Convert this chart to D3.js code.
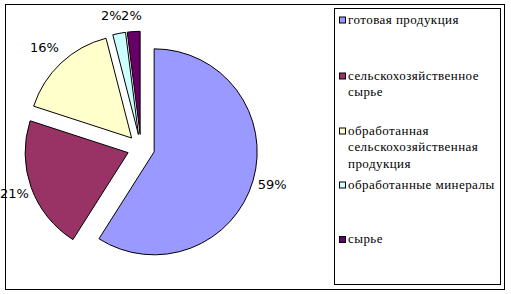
<!DOCTYPE html>
<html><head><meta charset="utf-8">
<script src="https://cdn.jsdelivr.net/npm/d3@7"></script>
<style>html,body{margin:0;padding:0;background:#fff;}svg{display:block;}
.leg{font-family:"Liberation Serif","DejaVu Serif",serif;font-size:13px;letter-spacing:0.45px;}
.lab{font-family:"DejaVu Sans",sans-serif;font-size:13px;}
</style>
</head><body>
<svg id="chart" width="511" height="294"></svg>
<script>
const categories = ["готовая продукция","сельскохозяйственное сырье","обработанная сельскохозяйственная продукция","обработанные минералы","сырье"];
const values = [59, 21, 16, 2, 2];
const valueLabels = ["59%","21%","16%","2%","2%"];
const colors = ["#9999FF","#993366","#FFFFCC","#CCFFFF","#660066"];
const legendLines = [["готовая продукция"],["сельскохозяйственное","сырье"],["обработанная","сельскохозяйственная","продукция"],["обработанные минералы"],["сырье"]];

const svg = d3.select("#chart");
svg.append("rect").attr("x",5.5).attr("y",4.5).attr("width",499).attr("height",285)
  .attr("fill","#fff").attr("stroke","#000").attr("stroke-width",1);

const cx = 141, cy = 148, r = 103, explode = 13.7, labelR = 123;
const labelNudge = [[0,-2],[2,-1],[-3,-1],[-4,1],[-1,3]];
const pie = d3.pie().sort(null).value(d => d)(values);
const arc = d3.arc().innerRadius(0).outerRadius(r);
const g = svg.append("g").attr("transform",`translate(${cx},${cy})`);
pie.forEach((p,i) => {
  const mid = (p.startAngle + p.endAngle)/2;
  const dx = Math.sin(mid)*explode, dy = -Math.cos(mid)*explode;
  g.append("path").attr("d", arc(p)).attr("transform",`translate(${dx},${dy})`)
    .attr("fill", colors[i]).attr("stroke","#000").attr("stroke-width",1).attr("stroke-linejoin","round");
  const lx = dx + Math.sin(mid)*labelR + labelNudge[i][0], ly = dy - Math.cos(mid)*labelR + labelNudge[i][1];
  g.append("text").attr("class","lab").attr("x", lx).attr("y", ly + 5).attr("text-anchor","middle")
    .attr("fill","#000").text(valueLabels[i]);
});

// legend
svg.append("rect").attr("x",334.5).attr("y",8.5).attr("width",166).attr("height",276)
  .attr("fill","#fff").attr("stroke","#000").attr("stroke-width",1);
const legendBase = [23.5, 79.5, 134.5, 188.5, 243];
const lineH = 16.5;
categories.forEach((c,i) => {
  const b = legendBase[i];
  svg.append("rect").attr("x",339.5).attr("y",b-6.5).attr("width",6).attr("height",6)
    .attr("fill",colors[i]).attr("stroke","#000").attr("stroke-width",1);
  const t = svg.append("text").attr("class","leg").attr("x",348).attr("y",b).attr("fill","#000");
  legendLines[i].forEach((ln,j) => {
    t.append("tspan").attr("x",348).attr("y",b + j*lineH).text(ln);
  });
});
</script>
</body></html>
